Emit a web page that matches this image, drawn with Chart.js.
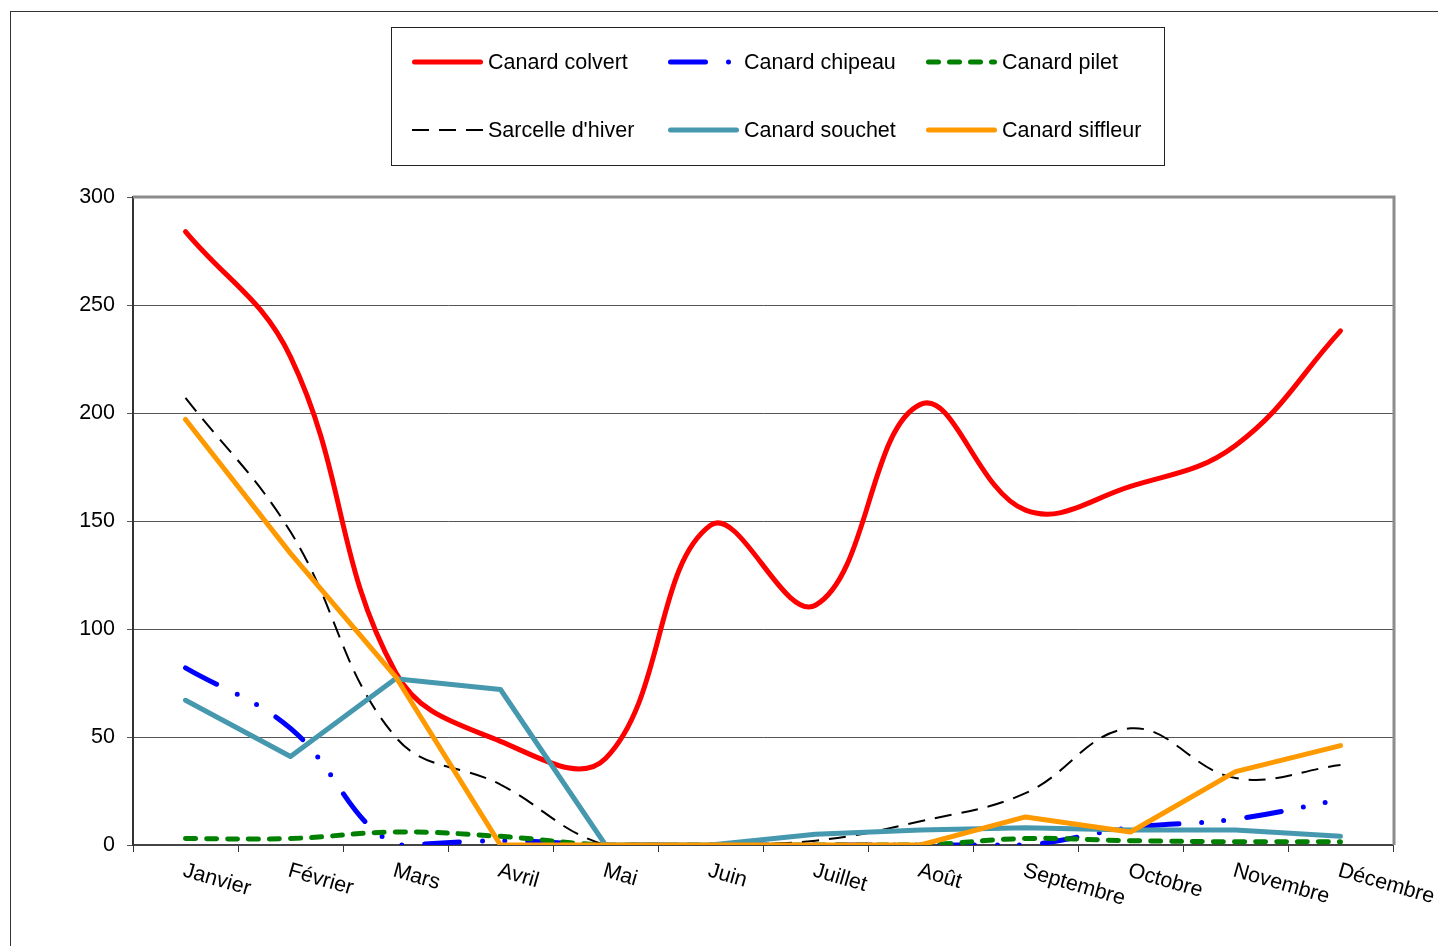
<!DOCTYPE html>
<html lang="fr">
<head>
<meta charset="utf-8">
<title>Canards - effectifs mensuels</title>
<script src="https://cdn.jsdelivr.net/npm/chart.js@4.4.1/dist/chart.umd.min.js"></script>
<style>
  html, body { margin: 0; padding: 0; background: #fff; }
  canvas { display: block; }
</style>
</head>
<body>
<canvas id="canardsChart" width="1438" height="946"></canvas>
<script>
// Monthly counts per species
const mois = ['Janvier', 'Février', 'Mars', 'Avril', 'Mai', 'Juin', 'Juillet', 'Août', 'Septembre', 'Octobre', 'Novembre', 'Décembre'];
const colvert  = [284, 226, 80, 48, 40, 148, 111, 204, 155, 166, 185, 238];
const chipeau  = [82, 54, 0, 2, 0, 0, 0, 0, 0, 8, 12, 21];
const pilet    = [3, 3, 6, 4, 0, 0, 0, 0, 3, 2, 1.5, 1.5];
const sarcelle = [207, 145, 50, 28, 0, 0, 2, 11, 24, 54, 31, 37];
const souchet  = [67, 41, 77, 72, 0, 0, 5, 7, 8, 7, 7, 4];
const siffleur = [197, 135, 78, 0, 0, 0, 0, 0, 13, 6, 34, 46];
const yTicks   = [0, 50, 100, 150, 200, 250, 300];

const FONT = '21.5px "Liberation Sans", Arial, sans-serif';
Chart.defaults.font.family = '"Liberation Sans", Arial, sans-serif';
Chart.defaults.font.size = 21.5;
Chart.defaults.color = '#000';

// outer frame around the whole figure
const framePlugin = {
    id: 'frame',
    beforeDraw(chart) {
        const ctx = chart.ctx;
        ctx.save();
        ctx.strokeStyle = '#333';
        ctx.lineWidth = 1;
        ctx.strokeRect(10.5, 11.5, 1500, 1000);
        ctx.restore();
    },
    afterDatasetsDraw(chart) {
        // gray border on top and right of the plot area
        const a = chart.chartArea;
        const ctx = chart.ctx;
        ctx.save();
        ctx.strokeStyle = '#8c8c8c';
        ctx.lineWidth = 3;
        ctx.beginPath();
        ctx.moveTo(a.left, a.top);
        ctx.lineTo(a.right + 1, a.top);
        ctx.lineTo(a.right + 1, a.bottom);
        ctx.stroke();
        ctx.restore();
    }
};

// month names, tilted downwards to the right
const monthLabels = {
    id: 'monthLabels',
    afterDraw(chart) {
        const scale = chart.scales.x;
        const ctx = chart.ctx;
        ctx.save();
        ctx.font = FONT;
        ctx.fillStyle = '#000';
        ctx.textAlign = 'left';
        ctx.textBaseline = 'top';
        mois.forEach((m, i) => {
            const x = scale.getPixelForTick(i);
            ctx.save();
            ctx.translate(x + 1, scale.top + 15);
            ctx.rotate(16 * Math.PI / 180);
            ctx.fillText(m, 0, 0);
            ctx.restore();
        });
        ctx.restore();
    }
};

// boxed legend laid out on a 3 x 2 grid
const gridLegend = {
    id: 'gridLegend',
    afterDraw(chart) {
        const ctx = chart.ctx;
        const cols = [412, 668, 926];
        const rows = [62, 130];
        ctx.save();
        ctx.strokeStyle = '#222';
        ctx.lineWidth = 1;
        ctx.strokeRect(391.5, 27.5, 773, 138);
        ctx.font = FONT;
        ctx.textBaseline = 'middle';
        ctx.textAlign = 'left';
        chart.data.datasets.forEach((ds, i) => {
            const x = cols[i % 3];
            const y = rows[Math.floor(i / 3)];
            ctx.save();
            ctx.strokeStyle = ds.borderColor;
            ctx.lineWidth = ds.borderWidth;
            ctx.lineCap = ds.borderCapStyle || 'butt';
            ctx.setLineDash(ds.borderDash || []);
            ctx.beginPath();
            const inset = ctx.lineCap === 'round' ? ds.borderWidth / 2 : 0;
            ctx.moveTo(x + inset, y);
            ctx.lineTo(x + 71 - inset, y);
            ctx.stroke();
            ctx.restore();
            ctx.fillStyle = '#000';
            ctx.fillText(ds.label, x + 76, y + 1);
        });
        ctx.restore();
    }
};

const ctx = document.getElementById('canardsChart').getContext('2d');
new Chart(ctx, {
    type: 'line',
    data: {
        labels: mois,
        datasets: [
            {
                label: 'Canard colvert',
                data: colvert,
                borderColor: '#ff0000',
                borderWidth: 5,
                borderCapStyle: 'round',
                tension: 0.4,
                order: 6
            },
            {
                label: 'Canard chipeau',
                data: chipeau,
                borderColor: '#0000ff',
                borderWidth: 5,
                borderCapStyle: 'round',
                borderDash: [35, 23, 0, 22, 0, 23],
                tension: 0.4,
                order: 5
            },
            {
                label: 'Canard pilet',
                data: pilet,
                borderColor: '#008000',
                borderWidth: 5,
                borderCapStyle: 'round',
                borderDash: [10, 11],
                tension: 0.4,
                order: 4
            },
            {
                label: "Sarcelle d'hiver",
                data: sarcelle,
                borderColor: '#000000',
                borderWidth: 2,
                borderDash: [17, 10],
                tension: 0.4,
                order: 3
            },
            {
                label: 'Canard souchet',
                data: souchet,
                borderColor: '#4698af',
                borderWidth: 5,
                borderCapStyle: 'round',
                borderJoinStyle: 'round',
                tension: 0,
                order: 2
            },
            {
                label: 'Canard siffleur',
                data: siffleur,
                borderColor: '#ff9900',
                borderWidth: 5,
                borderCapStyle: 'round',
                borderJoinStyle: 'round',
                tension: 0,
                order: 1
            }
        ]
    },
    options: {
        responsive: false,
        animation: false,
        devicePixelRatio: 1,
        elements: { point: { radius: 0, hoverRadius: 0 } },
        layout: { padding: { top: 197, right: 45, left: 0, bottom: 0 } },
        plugins: {
            legend: { display: false },
            tooltip: { enabled: false }
        },
        scales: {
            x: {
                offset: true,
                grid: {
                    offset: true,
                    drawOnChartArea: false,
                    drawTicks: true,
                    tickLength: 7,
                    color: '#333'
                },
                border: { color: '#444', width: 2 },
                ticks: { display: false },
                afterFit(scale) { scale.height = 101; }
            },
            y: {
                min: 0,
                max: 300,
                afterBuildTicks(scale) {
                    scale.ticks = yTicks.map(v => ({ value: v }));
                },
                grid: {
                    color: '#555',
                    lineWidth: 1,
                    tickLength: 6
                },
                border: { color: '#333', width: 2 },
                ticks: {
                    padding: 12,
                    color: '#000',
                    font: { size: 21.5 }
                },
                afterFit(scale) { scale.width = 133; }
            }
        }
    },
    plugins: [framePlugin, monthLabels, gridLegend]
});
</script>
</body>
</html>
